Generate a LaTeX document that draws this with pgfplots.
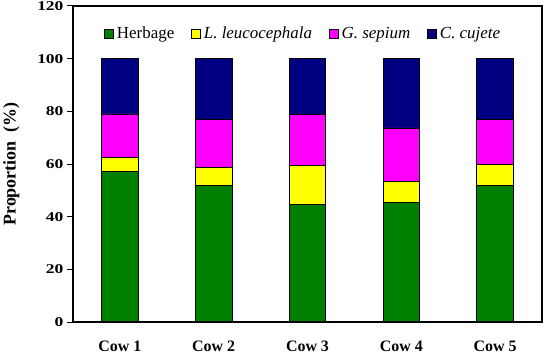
\documentclass[border=0pt]{standalone}
\usepackage{pgfplots}
\pgfplotsset{compat=1.18}
\usepackage{fontspec}
\setmainfont{Liberation Serif}
\newfontfamily\widefont[FakeStretch=1.3]{Liberation Serif}
\definecolor{cgreen}{RGB}{0,128,0}
\definecolor{cyellow}{RGB}{255,255,0}
\definecolor{cmag}{RGB}{255,0,255}
\definecolor{cnavy}{RGB}{0,0,128}
\begin{document}
\begin{tikzpicture}
\useasboundingbox (0,0) rectangle (545bp,356bp);
\begin{axis}[
  at={(73bp,34bp)}, anchor=south west,
  scale only axis, width=469bp, height=316bp,
  axis lines=box,
  ybar stacked, bar width=0.39,
  xmin=-0.5, xmax=4.5, ymin=0, ymax=120,
  xtick={0,1,2,3,4},
  xticklabels={Cow 1,Cow 2,Cow 3,Cow 4,Cow 5},
  minor xtick={-0.5,0.5,1.5,2.5,3.5,4.5},
  ytick={0,20,40,60,80,100,120},
  tick align=outside,
  xtick style={draw=none},
  minor tick length=5bp,
  major tick length=6bp,
  xtick pos=bottom, ytick pos=left,
  minor x tick style={line width=1pt, black},
  ytick style={line width=1pt, black},
  axis line style={line width=1.1pt},
  /pgf/number format/assume math mode=true,
  yticklabel style={font=\widefont\fontsize{13.5}{15}\selectfont\bfseries},
  xticklabel style={font=\fontsize{16}{18}\selectfont\bfseries, yshift=-9bp},
  ylabel={Proportion\ \ (\%)},
  ylabel style={font=\fontsize{18}{20}\selectfont\bfseries, yshift=11bp},
  legend style={draw=none, fill=none, at={(0.492,0.912)}, anchor=center,
    font=\fontsize{17}{19}\selectfont, legend columns=4,
    nodes={inner xsep=3.5bp},
    /tikz/every even column/.append style={column sep=13bp}},
  legend image code/.code={\draw[#1,draw=black,line width=0.6pt] (0bp,-4.5bp) rectangle (9bp,4.5bp);},
  every axis plot/.append style={draw=black, line width=0.8pt},
]
\addplot[fill=cgreen] coordinates {(0,57.2) (1,52.0) (2,44.8) (3,45.4) (4,51.8)};
\addplot[fill=cyellow] coordinates {(0,5.3) (1,6.6) (2,14.5) (3,8.0) (4,8.1)};
\addplot[fill=cmag] coordinates {(0,16.5) (1,18.3) (2,19.6) (3,20.3) (4,17.0)};
\addplot[fill=cnavy] coordinates {(0,21.0) (1,23.1) (2,21.1) (3,26.3) (4,23.1)};
\legend{Herbage,\textit{L. leucocephala},\textit{G. sepium},\textit{C. cujete}}
\end{axis}
\draw[line width=1.3pt, black] (73bp,34bp) rectangle (542bp,350bp);
\end{tikzpicture}
\end{document}
